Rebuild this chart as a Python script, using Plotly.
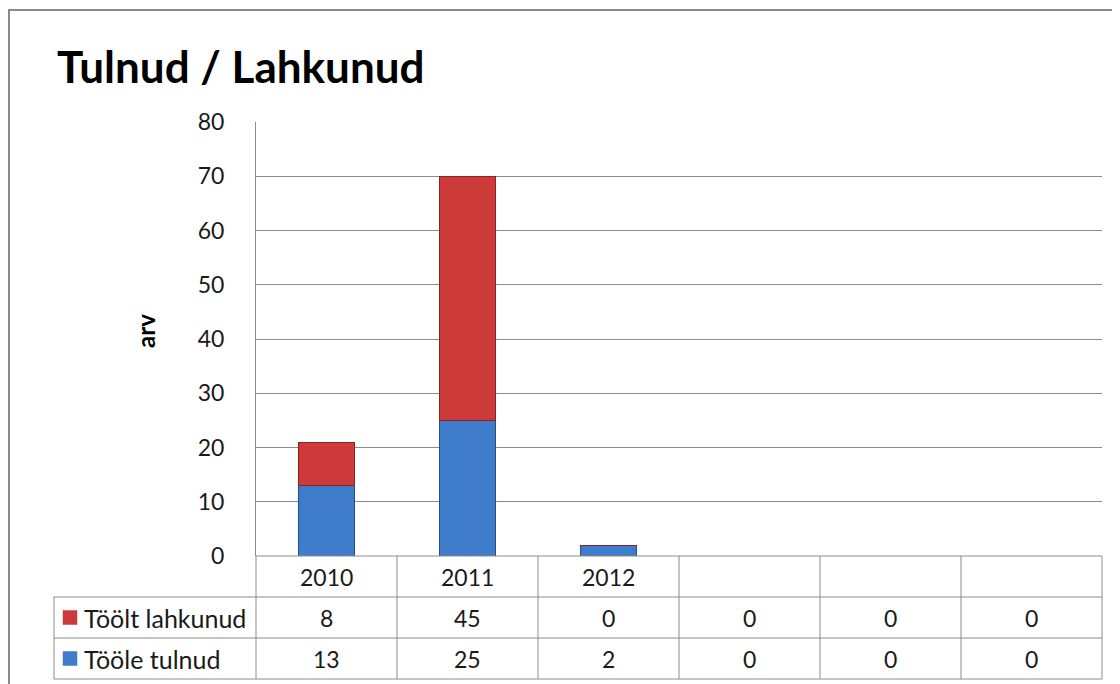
import plotly.graph_objects as go

categories = ["2010", "2011", "2012", "", "", ""]
series_names = ["Töölt lahkunud", "Tööle tulnud"]
lahkunud = [8, 45, 0, 0, 0, 0]
tulnud = [13, 25, 2, 0, 0, 0]
y_ticks = [0, 10, 20, 30, 40, 50, 60, 70, 80]

BLUE = "#3f7ccb"
RED = "#cc3a3a"
GRID = "#8c8c8c"
FONT = "Lato"

# page offset (default body margin of the html page)
OFF = 8
W, H = 1120 - OFF, 684 - OFF
L, R, T, B = 256 - OFF, 1102 - OFF, 122 - OFF, 556 - OFF
pw, ph = R - L, B - T


def px(x):
    return (x - OFF - L) / pw


def py(y):
    return (B - (y - OFF)) / ph


n = len(categories)
xs = list(range(n))

fig = go.Figure()
fig.add_trace(go.Bar(x=xs, y=tulnud, name=series_names[1], width=0.4,
                     marker=dict(color=BLUE, line=dict(color="#244f86", width=1))))
fig.add_trace(go.Bar(x=xs, y=lahkunud, name=series_names[0], width=0.4,
                     marker=dict(color=RED, line=dict(color="#8a2222", width=1))))

shapes = []
annotations = []

# outer chart border
shapes.append(dict(type="rect", xref="paper", yref="paper",
                   x0=px(9), x1=px(1140), y0=py(700), y1=py(10),
                   line=dict(color="#8a8a8a", width=2), layer="below"))

# data table (page pixel positions)
row_y = [556, 597, 638, 679]
label_x0 = 54
tl, tr = 256, 1102
colw = (tr - tl) / n
col_x = [tl + i * colw for i in range(n + 1)]
line_style = dict(color=GRID, width=1)
shapes.append(dict(type="line", xref="paper", yref="paper", x0=px(tl), x1=px(tr),
                   y0=py(row_y[0]), y1=py(row_y[0]), line=line_style))
for yy in row_y[1:]:
    shapes.append(dict(type="line", xref="paper", yref="paper", x0=px(label_x0), x1=px(tr),
                       y0=py(yy), y1=py(yy), line=line_style))
for xx in col_x:
    shapes.append(dict(type="line", xref="paper", yref="paper", x0=px(xx), x1=px(xx),
                       y0=py(row_y[0]), y1=py(row_y[3]), line=line_style))
shapes.append(dict(type="line", xref="paper", yref="paper", x0=px(label_x0), x1=px(label_x0),
                   y0=py(row_y[1]), y1=py(row_y[3]), line=line_style))

nfont = dict(family=FONT, size=23, color="#1a1a1a")
lfont = dict(family=FONT, size=25, color="#1a1a1a")
for i, c in enumerate(categories):
    if c:
        annotations.append(dict(xref="paper", yref="paper", x=px(col_x[i] + colw / 2),
                                y=py((row_y[0] + row_y[1]) / 2), text=c, showarrow=False,
                                font=nfont, xanchor="center", yanchor="middle"))
rows = [(series_names[0], lahkunud, RED), (series_names[1], tulnud, BLUE)]
for r, (name, vals, col) in enumerate(rows):
    yc = (row_y[r + 1] + row_y[r + 2]) / 2
    shapes.append(dict(type="rect", xref="paper", yref="paper",
                       x0=px(63), x1=px(77), y0=py(yc + 7), y1=py(yc - 7),
                       fillcolor=col, line=dict(color=col, width=0.5)))
    annotations.append(dict(xref="paper", yref="paper", x=px(82), y=py(yc), text=name,
                            showarrow=False, font=lfont, xanchor="left", yanchor="middle"))
    for i, v in enumerate(vals):
        annotations.append(dict(xref="paper", yref="paper", x=px(col_x[i] + colw / 2),
                                y=py(yc), text=str(v), showarrow=False, font=nfont,
                                xanchor="center", yanchor="middle"))

# title and axis title
annotations.append(dict(xref="paper", yref="paper", x=px(55), y=py(66), text="<b>Tulnud / Lahkunud</b>",
                        showarrow=False, font=dict(family=FONT, size=44, color="#000"),
                        xanchor="left", yanchor="middle"))
annotations.append(dict(xref="paper", yref="paper", x=px(145), y=py(331), text="<b>arv</b>",
                        showarrow=False, textangle=-90, font=dict(family=FONT, size=24, color="#000"),
                        xanchor="center", yanchor="middle"))

fig.update_layout(
    width=W, height=H,
    margin=dict(l=L, r=W - R, t=T, b=H - B, pad=0),
    paper_bgcolor="white", plot_bgcolor="white",
    barmode="stack", showlegend=False,
    shapes=shapes, annotations=annotations,
    xaxis=dict(range=[-0.5, n - 0.5], showticklabels=False, showgrid=False,
               zeroline=False, showline=False, ticks="", fixedrange=True),
    yaxis=dict(range=[0, 80], tickvals=y_ticks, showgrid=True, gridcolor=GRID, gridwidth=1,
               zeroline=False, showline=True, linecolor=GRID, linewidth=1, ticks="",
               ticklabelstandoff=26, tickfont=nfont),
)

fig.write_html("out.html")
